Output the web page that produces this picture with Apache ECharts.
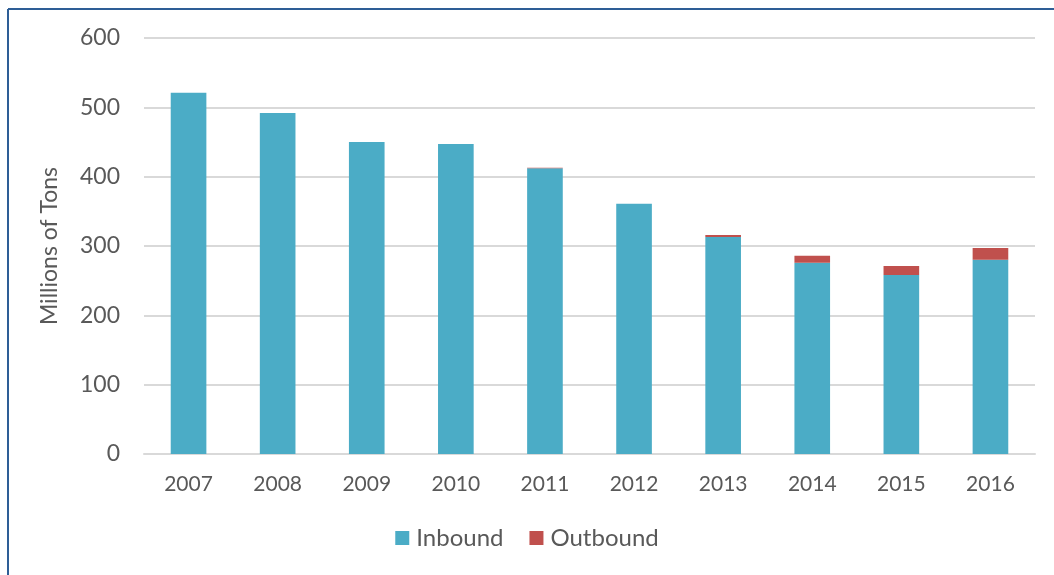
<!DOCTYPE html>
<html>
<head>
<meta charset="utf-8">
<script src="https://cdn.jsdelivr.net/npm/echarts@6/dist/echarts.min.js"></script>
<style>
html,body{margin:0;padding:0;background:#fff;}
#chart{width:1054px;height:575px;}
</style>
</head>
<body>
<div id="chart"></div>
<script>
const years = ['2007','2008','2009','2010','2011','2012','2013','2014','2015','2016'];
const inbound = [521, 492, 450, 447, 412, 361, 313, 276, 258, 280];
const outbound = [0, 0, 0, 0, 1, 0, 3, 10, 13, 17];
const yTicks = {min: 0, max: 600, interval: 100};

const FONT = 'Lato';
const TXT = '#595959';
const chart = echarts.init(document.getElementById('chart'));
chart.setOption({
  animation: false,
  textStyle: {fontFamily: FONT},
  grid: {left: 144, right: 19, top: 38, bottom: 121},
  legend: {
    top: 521, left: 'center',
    itemWidth: 14, itemHeight: 14, itemGap: 26,
    icon: 'rect',
    textStyle: {fontFamily: FONT, fontSize: 24, color: TXT, padding: [0,0,0,2]},
    data: ['Inbound', 'Outbound']
  },
  xAxis: {
    type: 'category', data: years,
    axisLine: {lineStyle: {color: '#d9d9d9', width: 2}},
    axisTick: {show: false},
    axisLabel: {fontFamily: FONT, fontSize: 21, color: TXT, margin: 20}
  },
  yAxis: {
    type: 'value', min: yTicks.min, max: yTicks.max, interval: yTicks.interval,
    name: 'Millions of Tons', nameLocation: 'middle', nameGap: 83,
    nameTextStyle: {fontFamily: FONT, fontSize: 23, color: TXT},
    axisLine: {show: false}, axisTick: {show: false},
    axisLabel: {fontFamily: FONT, fontSize: 23, color: TXT, margin: 24},
    splitLine: {lineStyle: {color: '#d9d9d9', width: 2}}
  },
  series: [
    {name: 'Inbound', type: 'bar', stack: 't', data: inbound, barWidth: '40%',
     itemStyle: {color: '#4BACC6'}},
    {name: 'Outbound', type: 'bar', stack: 't', data: outbound,
     itemStyle: {color: '#C0504D'}}
  ],
  graphic: [
    {type: 'line', shape: {x1: 8, y1: 9, x2: 1054, y2: 9}, style: {stroke: '#2E5E96', lineWidth: 2}},
    {type: 'line', shape: {x1: 8, y1: 9, x2: 8, y2: 575}, style: {stroke: '#2E5E96', lineWidth: 2}}
  ]
});
</script>
</body>
</html>
